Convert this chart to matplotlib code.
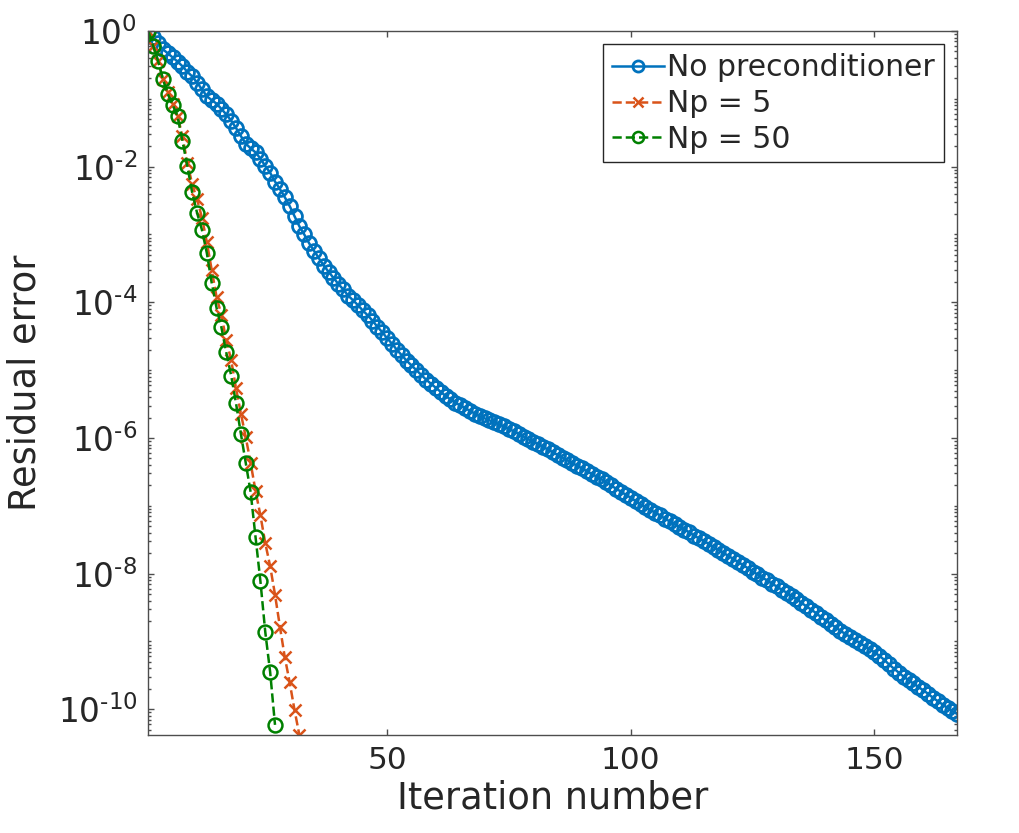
import numpy as np
import matplotlib.pyplot as plt
from matplotlib.ticker import LogLocator, NullFormatter

# log10 of the residual error, one value per iteration
log_no_prec = [
    0.00, -0.09, -0.18, -0.27, -0.33, -0.39, -0.45, -0.52, -0.60, -0.67,
    -0.76, -0.86, -0.96, -1.02, -1.07, -1.15, -1.23, -1.32, -1.43, -1.55,
    -1.66, -1.73, -1.79, -1.88, -1.99, -2.09, -2.22, -2.33, -2.45, -2.58,
    -2.73, -2.88, -3.00, -3.13, -3.24, -3.35, -3.46, -3.55, -3.64, -3.73,
    -3.81, -3.90, -3.97, -4.04, -4.12, -4.19, -4.27, -4.36, -4.44, -4.53,
    -4.61, -4.70, -4.78, -4.86, -4.93, -5.00, -5.07, -5.14, -5.20, -5.26,
    -5.32, -5.38, -5.43, -5.48, -5.52, -5.56, -5.60, -5.64, -5.68, -5.71,
    -5.74, -5.77, -5.80, -5.83, -5.87, -5.90, -5.94, -5.98, -6.02, -6.06,
    -6.09, -6.13, -6.17, -6.21, -6.25, -6.29, -6.33, -6.37, -6.41, -6.45,
    -6.49, -6.53, -6.57, -6.61, -6.65, -6.70, -6.75, -6.79, -6.84, -6.88,
    -6.93, -6.98, -7.02, -7.06, -7.10, -7.14, -7.19, -7.23, -7.27, -7.31,
    -7.35, -7.39, -7.44, -7.48, -7.52, -7.56, -7.61, -7.65, -7.69, -7.74,
    -7.78, -7.83, -7.87, -7.92, -7.97, -8.01, -8.06, -8.10, -8.15, -8.19,
    -8.24, -8.28, -8.33, -8.37, -8.43, -8.48, -8.53, -8.58, -8.64, -8.69,
    -8.74, -8.79, -8.84, -8.89, -8.93, -8.98, -9.02, -9.07, -9.11, -9.16,
    -9.21, -9.27, -9.34, -9.40, -9.46, -9.52, -9.57, -9.62, -9.67, -9.72,
    -9.77, -9.83, -9.88, -9.93, -9.98, -10.03, -10.07,
]
log_np5 = [
    0.00, -0.22, -0.44, -0.71, -0.90, -1.08, -1.25, -1.55, -1.94, -2.26,
    -2.48, -2.75, -3.11, -3.52, -3.92, -4.19, -4.56, -4.85, -5.27, -5.64,
    -5.99, -6.37, -6.78, -7.14, -7.55, -7.89, -8.31, -8.78, -9.23, -9.60,
    -10.01, -10.38,
]
log_np50 = [
    0.00, -0.22, -0.44, -0.71, -0.93, -1.09, -1.26, -1.62, -1.99, -2.38,
    -2.68, -2.93, -3.27, -3.71, -4.08, -4.37, -4.74, -5.08, -5.49, -5.94,
    -6.37, -6.80, -7.46, -8.11, -8.86, -9.45, -10.23,
]
labels = ['No preconditioner', 'Np = 5', 'Np = 50']
ytick_exp = [0, -2, -4, -6, -8, -10]

res0 = 10.0 ** np.array(log_no_prec)
res5 = 10.0 ** np.array(log_np5)
res50 = 10.0 ** np.array(log_np50)
it0 = np.arange(1, len(res0) + 1)
it5 = np.arange(1, len(res5) + 1)
it50 = np.arange(1, len(res50) + 1)

txt = '#262626'
plt.rcParams['font.family'] = ['DejaVu Sans']
plt.rcParams['text.color'] = txt
plt.rcParams['axes.labelcolor'] = txt

fig = plt.figure(figsize=(10.2, 8.33), dpi=100)
ax = fig.add_axes([0.1454, 0.1176, 0.7931, 0.8452])

ax.semilogy(it0, res0, '-', color='#0072BD', lw=1.8, marker='o', ms=10,
            mfc='none', mew=2.0, label=labels[0])
ax.semilogy(it5, res5, '--', color='#D95319', lw=1.8, marker='x', ms=9,
            mew=1.8, label=labels[1])
ax.semilogy(it50, res50, '--', color='#008000', lw=1.8, marker='o', ms=10,
            mfc='none', mew=1.8, label=labels[2])

ax.set_xlim(1, len(res0))
ax.set_ylim(res5.min(), 1)
ax.set_xticks([50, 100, 150])
ax.set_yticks([10.0 ** e for e in ytick_exp])
# MATLAB writes the exponent with a plain hyphen
ax.set_yticklabels([r'$\mathregular{10^{\text{%s}}}$' % str(e) for e in ytick_exp],
                   fontsize=23.5)
ax.yaxis.set_minor_locator(LogLocator(base=10, subs=np.arange(1, 10), numticks=100))
ax.yaxis.set_minor_formatter(NullFormatter())

ax.tick_params(which='both', direction='in', top=True, right=True,
               colors='#4d4d4d', labelcolor=txt, width=1.0)
ax.tick_params(axis='x', labelsize=22.5)
ax.tick_params(which='major', length=4.5, pad=8)
ax.tick_params(which='minor', length=2.5)
for s in ax.spines.values():
    s.set_color('#4d4d4d')
    s.set_linewidth(1.0)

ax.set_xlabel('Iteration number', fontsize=26.5, labelpad=3)
ax.set_ylabel('Residual error', fontsize=26.5, labelpad=10)

leg = ax.legend(loc='upper right', fontsize=21.5, handlelength=1.75,
                handletextpad=0.1, labelspacing=0.22, borderaxespad=0.45,
                borderpad=0.3, fancybox=False, framealpha=1, markerscale=0.8)
leg.get_frame().set_edgecolor('#262626')
leg.get_frame().set_linewidth(1.0)

fig.savefig('out.png', dpi=100, facecolor='white')
